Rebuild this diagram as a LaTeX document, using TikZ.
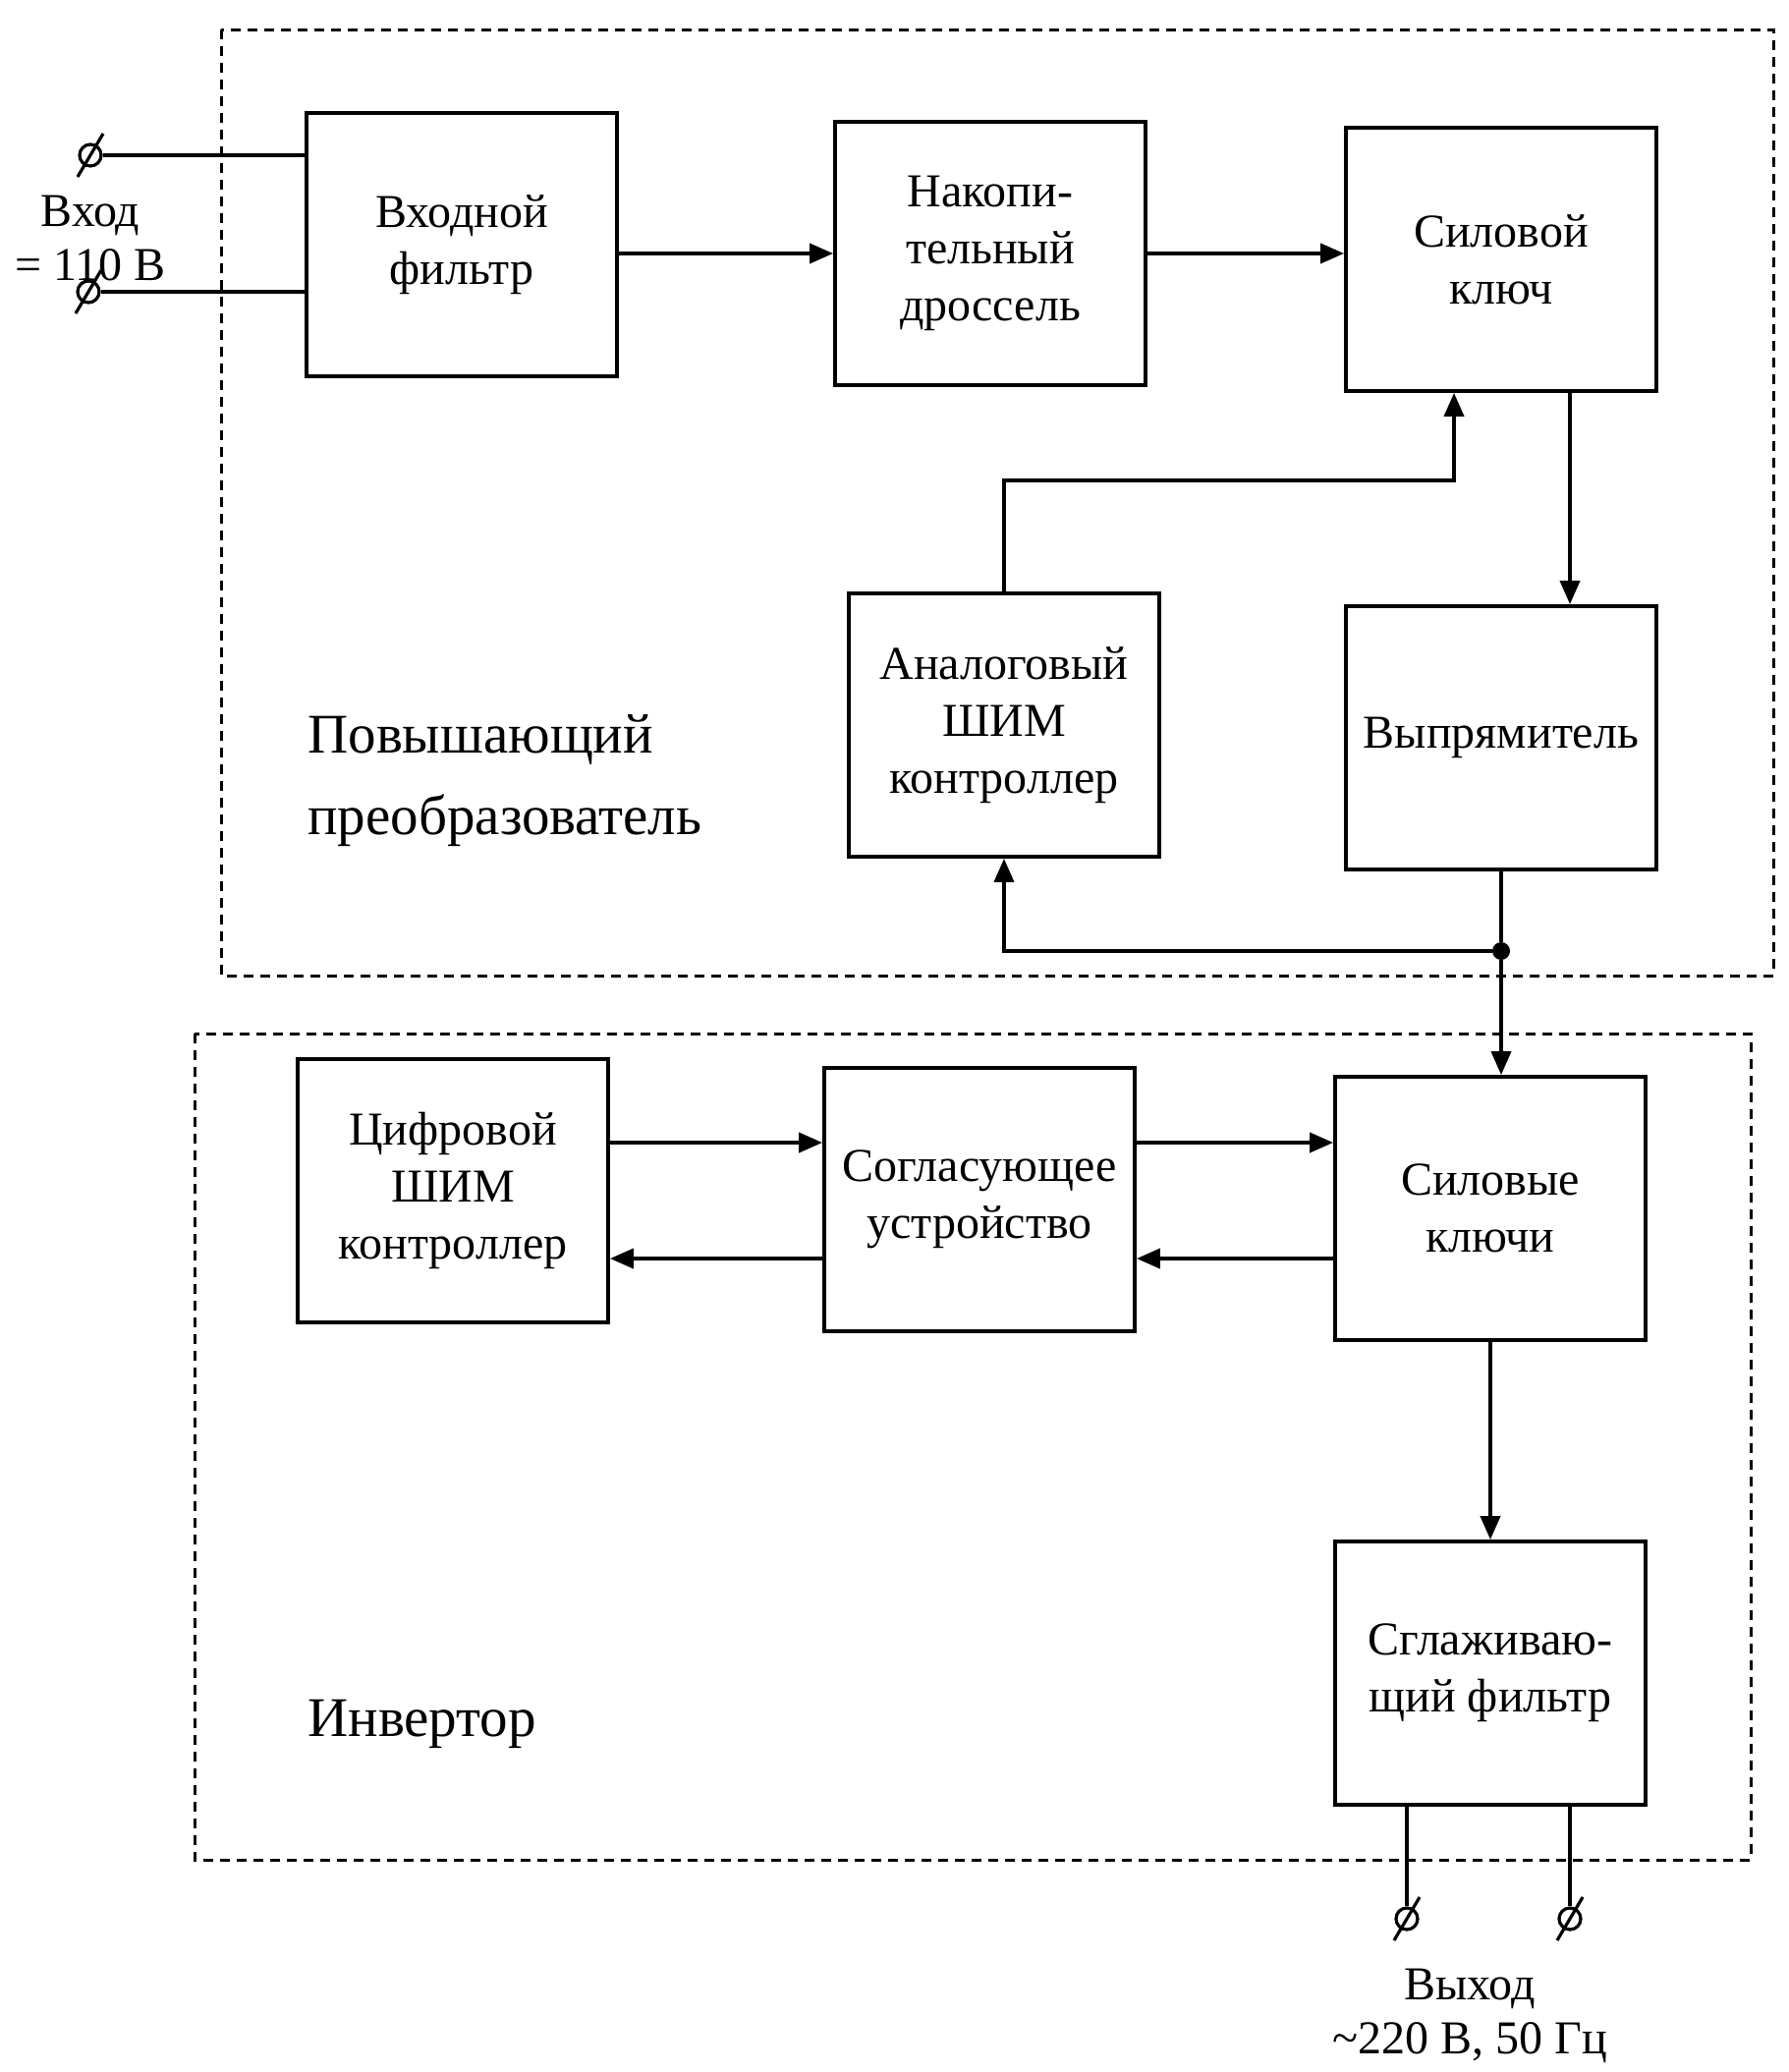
\documentclass[tikz,border=0pt]{standalone}
\usepackage{fontspec}
\setmainfont{Liberation Serif}
\usetikzlibrary{arrows.meta,calc}

\tikzset{
  blk/.style={draw,line width=1.9pt,minimum width=158pt,minimum height=134pt,align=center,inner sep=2pt,font=\fontsize{24}{29}\selectfont},
  arr/.style={line width=1.9pt,-{Triangle[length=12pt,width=10pt]}},
  wire/.style={line width=1.9pt},
  term/.style={circle,draw,line width=1.6pt,minimum size=11pt,inner sep=0pt},
  dot/.style={circle,fill,inner sep=0pt,minimum size=9pt},
  dbox/.style={line width=1.5pt,dash pattern=on 5pt off 3.5pt},
  lbl/.style={anchor=west,align=left,inner sep=0pt,font=\fontsize{28.5}{41.5}\selectfont},
  io/.style={align=center,inner sep=0pt,font=\fontsize{24}{27.5}\selectfont}
}

\begin{document}
\begin{tikzpicture}[x=0.5pt,y=0.5pt,yscale=-1]
\path[use as bounding box] (0,0) rectangle (1820,2109);

% dashed frames
\draw[dbox] (225,30) rectangle (1805,993);
\draw[dbox] (198,1052) rectangle (1782,1893);

% group labels
\node[lbl] (boost) at (313,795) {Повышающий\\преобразователь};
\node[lbl] (inv) at (313,1755) {Инвертор};

% blocks
\node[blk] (fil) at (470,249) {Входной\\фильтр};
\node[blk] (drs) at (1008,258) {Накопи-\\тельный\\дроссель};
\node[blk] (key) at (1528,264) {Силовой\\ключ};
\node[blk] (pwm) at (1022,738) {Аналоговый\\ШИМ\\контроллер};
\node[blk] (rect) at (1528,751) {Выпрямитель};
\node[blk] (dig) at (461,1212) {Цифровой\\ШИМ\\контроллер};
\node[blk] (mat) at (997,1221) {Согласующее\\устройство};
\node[blk] (keys) at (1517,1230) {Силовые\\ключи};
\node[blk] (smo) at (1517,1703) {Сглаживаю-\\щий фильтр};

% terminals
\node[term] (in1) at (92,158) {};
\node[term] (in2) at (90,297) {};
\node[term] (out1) at (1432,1953) {};
\node[term] (out2) at (1598,1953) {};
\foreach \t in {in1,in2,out1,out2}
  \draw[line width=1.6pt] ($(\t)+(-13,22)$) -- ($(\t)+(13,-22)$);

\node[io] (inlab) at (92,243) {Вход\\= 110 В};
\node[io] (outlab) at (1496,2052) {Выход\\\textasciitilde220 В, 50 Гц};

% helper points
\coordinate (hi) at (0,1163);
\coordinate (lo) at (0,1281);
\coordinate (kin) at ([xshift=-24pt]key.south);
\coordinate (kout) at ([xshift=35pt]key.south);
\node[dot] (jn) at (rect.south |- 0,968) {};

% connections
\draw[wire] (in1) -- (in1 -| fil.west);
\draw[wire] (in2) -- (in2 -| fil.west);
\draw[arr] (fil.east |- drs.west) -- (drs.west);
\draw[arr] (drs.east) -- (drs.east -| key.west);
\draw[arr] (kout) -- (kout |- rect.north);
\draw[arr] (pwm.north) -- ++(0,-113) -| (kin);
\draw[wire] (rect.south) -- (jn);
\draw[arr] (jn) -- (jn |- keys.north);
\draw[arr] (jn) -| (pwm.south);
\draw[arr] (dig.east |- hi) -- (mat.west |- hi);
\draw[arr] (mat.west |- lo) -- (dig.east |- lo);
\draw[arr] (mat.east |- hi) -- (keys.west |- hi);
\draw[arr] (keys.west |- lo) -- (mat.east |- lo);
\draw[arr] (keys) -- (smo);
\draw[wire] (out1 |- smo.south) -- (out1);
\draw[wire] (out2 |- smo.south) -- (out2);

\end{tikzpicture}
\end{document}
